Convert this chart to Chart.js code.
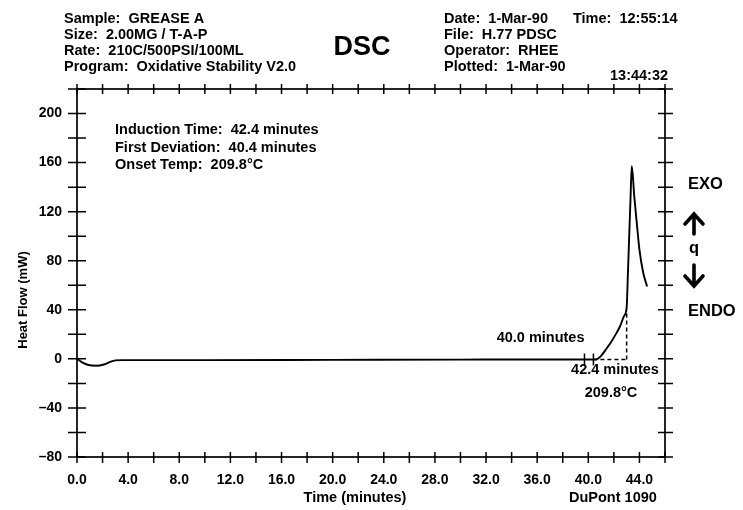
<!DOCTYPE html>
<html>
<head>
<meta charset="utf-8">
<script src="https://cdn.jsdelivr.net/npm/chart.js@4.4.1/dist/chart.umd.min.js"></script>
<style>
  body { margin: 0; background: #fff; }
  #wrap { width: 743px; height: 510px; }
</style>
</head>
<body>
<div id="wrap"><canvas id="dscChart" width="743" height="510"></canvas></div>
<script>
// DSC curve (time in minutes, heat flow in mW)
const timeMin = [0, 0.4, 0.9, 1.5, 2.1, 2.6, 3.0, 3.5, 10, 20, 30, 38, 40.6,
                 41.0, 41.4, 41.8, 42.2, 42.5, 42.8, 43.0, 43.1, 43.2, 43.3, 43.4,
                 43.6, 43.8, 44.0, 44.3, 44.6];
const heatFlow = [0, -2.8, -5.0, -5.6, -4.6, -2.4, -1.2, -1.0, -1.0, -0.8, -0.6, -0.5, -0.5,
                  2.5, 8, 14, 21, 27, 35, 42, 70, 100, 130, 157,
                  132, 110, 89, 70, 59];

// axes
const xRange = [0, 46];
const xStep = 2;
const xLabelEvery = 4;
const yRange = [-80, 220];
const yStep = 20;
const yLabelEvery = 40;

// header / annotation text
const headerLeft = ['Sample:  GREASE A', 'Size:  2.00MG / T-A-P', 'Rate:  210C/500PSI/100ML', 'Program:  Oxidative Stability V2.0'];
const headerRight = ['Date:  1-Mar-90', 'File:  H.77 PDSC', 'Operator:  RHEE', 'Plotted:  1-Mar-90'];
const resultLines = ['Induction Time:  42.4 minutes', 'First Deviation:  40.4 minutes', 'Onset Temp:  209.8°C'];

// markers on the baseline
const startMark = 39.7;
const deviationMark = 40.4;
const onsetTime = 43.0;
const onsetFlow = 40;
const baseFlow = -0.5;

const FONT = '"Liberation Sans", Arial, sans-serif';

const dscDecor = {
    id: 'dscDecor',
    afterDraw(chart) {
        const { ctx, chartArea: a, scales: { x, y } } = chart;
        ctx.save();
        ctx.strokeStyle = '#000';
        ctx.fillStyle = '#000';

        // frame
        ctx.lineWidth = 1.7;
        ctx.strokeRect(a.left, a.top, a.right - a.left, a.bottom - a.top);

        // crossing tick marks on all four sides
        ctx.lineWidth = 1.5;
        ctx.beginPath();
        x.ticks.forEach(t => {
            const px = x.getPixelForValue(t.value);
            ctx.moveTo(px, a.bottom - 5); ctx.lineTo(px, a.bottom + 6);
            ctx.moveTo(px, a.top - 5); ctx.lineTo(px, a.top + 5);
        });
        y.ticks.forEach(t => {
            const py = y.getPixelForValue(t.value);
            ctx.moveTo(a.left - 9, py); ctx.lineTo(a.left + 9, py);
            ctx.moveTo(a.right - 7, py); ctx.lineTo(a.right + 8, py);
        });
        // baseline marks
        [startMark, deviationMark].forEach(v => {
            const px = x.getPixelForValue(v);
            const py = y.getPixelForValue(baseFlow);
            ctx.moveTo(px, py - 6); ctx.lineTo(px, py + 6);
        });
        ctx.stroke();

        // onset construction (dashed)
        ctx.setLineDash([4, 3]);
        ctx.lineWidth = 1.5;
        ctx.beginPath();
        const bx = x.getPixelForValue(deviationMark);
        const ox = x.getPixelForValue(onsetTime);
        const by = y.getPixelForValue(baseFlow);
        ctx.moveTo(bx, by); ctx.lineTo(ox, by);
        ctx.moveTo(ox, by); ctx.lineTo(ox, y.getPixelForValue(onsetFlow));
        ctx.stroke();
        ctx.setLineDash([]);

        // header text
        ctx.textBaseline = 'middle';
        ctx.textAlign = 'left';
        ctx.font = 'bold 14.5px ' + FONT;
        headerLeft.forEach((s, i) => ctx.fillText(s, 64, 19 + i * 16));
        headerRight.forEach((s, i) => ctx.fillText(s, 444, 19 + i * 16));
        ctx.fillText('Time:  12:55:14', 573, 19);
        ctx.fillText('13:44:32', 610, 76);
        ctx.font = 'bold 27px ' + FONT;
        ctx.textAlign = 'center';
        ctx.fillText('DSC', 362, 48);

        // results inside the plot
        ctx.font = 'bold 14.5px ' + FONT;
        ctx.textAlign = 'left';
        resultLines.forEach((s, i) => ctx.fillText(s, 115, 130 + i * 17.5));

        ctx.textAlign = 'right';
        ctx.fillText('40.0 minutes', x.getPixelForValue(startMark), 338);
        ctx.textAlign = 'center';
        ctx.fillText('42.4 minutes', 615, 370);
        ctx.fillText('209.8°C', 611, 393);

        // axis titles
        ctx.fillText('Time (minutes)', 355, 498);
        ctx.textAlign = 'left';
        ctx.fillText('DuPont 1090', 569, 498);
        ctx.save();
        ctx.translate(23, 300);
        ctx.rotate(-Math.PI / 2);
        ctx.textAlign = 'center';
        ctx.font = 'bold 13px ' + FONT;
        ctx.fillText('Heat Flow (mW)', 0, 0);
        ctx.restore();

        // EXO / ENDO legend
        ctx.font = 'bold 16.5px ' + FONT;
        ctx.textAlign = 'left';
        ctx.fillText('EXO', 688, 184);
        ctx.fillText('ENDO', 688, 311);
        ctx.textAlign = 'center';
        ctx.fillText('q', 694, 248);
        ctx.lineWidth = 3.6;
        ctx.lineCap = 'round';
        ctx.beginPath();
        ctx.moveTo(694, 215); ctx.lineTo(694, 234);
        ctx.moveTo(685, 224); ctx.lineTo(694, 214); ctx.lineTo(703, 224);
        ctx.moveTo(694, 265); ctx.lineTo(694, 285);
        ctx.moveTo(685, 276); ctx.lineTo(694, 286); ctx.lineTo(703, 276);
        ctx.stroke();

        ctx.restore();
    }
};

const ctx = document.getElementById('dscChart').getContext('2d');
new Chart(ctx, {
    type: 'scatter',
    data: {
        datasets: [{
            label: 'Heat Flow',
            data: timeMin.map((t, i) => ({ x: t, y: heatFlow[i] })),
            showLine: true,
            borderColor: '#000',
            borderWidth: 1.9,
            pointRadius: 0,
            cubicInterpolationMode: 'monotone'
        }]
    },
    options: {
        responsive: false,
        animation: false,
        layout: { padding: { top: 89, right: 78, left: 0, bottom: 0 } },
        plugins: {
            legend: { display: false },
            tooltip: { enabled: false }
        },
        scales: {
            x: {
                type: 'linear',
                min: xRange[0],
                max: xRange[1],
                grid: { display: false },
                border: { display: false },
                afterFit: s => { s.height = 53; },
                ticks: {
                    stepSize: xStep,
                    autoSkip: false,
                    maxRotation: 0,
                    padding: 7,
                    color: '#000',
                    font: { family: FONT, size: 14, weight: 'bold' },
                    callback: v => (v % xLabelEvery === 0 && v < xRange[1]) ? v.toFixed(1) : ''
                }
            },
            y: {
                min: yRange[0],
                max: yRange[1],
                grid: { display: false },
                border: { display: false },
                afterFit: s => { s.width = 77; },
                ticks: {
                    stepSize: yStep,
                    autoSkip: false,
                    padding: 7,
                    color: '#000',
                    font: { family: FONT, size: 14, weight: 'bold' },
                    callback: v => (v % yLabelEvery === 0 && v < yRange[1]) ? (v < 0 ? '–' + Math.abs(v) : String(v)) : ''
                }
            }
        }
    },
    plugins: [dscDecor]
});
</script>
</body>
</html>
